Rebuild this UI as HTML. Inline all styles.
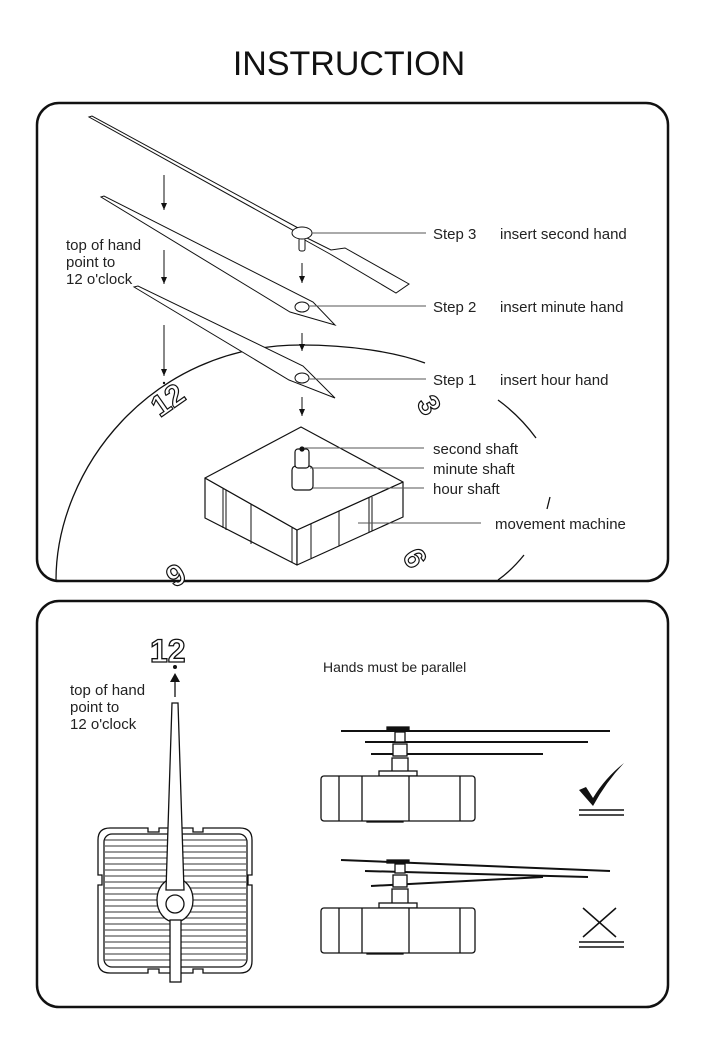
<!DOCTYPE html>
<html><head><meta charset="utf-8"><style>
html,body{margin:0;padding:0;background:#fff;}
svg{display:block;}
text{font-family:"Liberation Sans",Arial,sans-serif;fill:#222;}
</style></head><body>
<svg width="704" height="1058" viewBox="0 0 704 1058" xmlns="http://www.w3.org/2000/svg">
<defs>
<marker id="ah" markerWidth="8" markerHeight="8" refX="7" refY="3.5" orient="auto" markerUnits="userSpaceOnUse">
<path d="M0,0.5 L7,3.5 L0,6.5 Z" fill="#111"/></marker>
</defs>
<text x="349" y="75" font-size="34" text-anchor="middle" style="fill:#111">INSTRUCTION</text>

<rect x="37" y="103" width="631" height="478" rx="22" fill="none" stroke="#111" stroke-width="2.5"/>
<rect x="37" y="601" width="631" height="406" rx="22" fill="none" stroke="#111" stroke-width="2.5"/>

<!-- dial -->
<g fill="none" stroke="#111" stroke-width="1.3">
<path d="M56,580 C56,470 150,345 301,345 C350,345 395,352 425,363"/>
<path d="M498,400 Q520,416 536,438"/>
<path d="M550,497 L547,509"/>
<path d="M524,555 Q512,570 498,580"/>
</g>
<g font-size="30" font-weight="bold" stroke="#111" stroke-width="1.2">
<text x="0" y="0" transform="translate(160,418) rotate(-35)" style="fill:#fff">12</text>
<text x="0" y="0" transform="translate(416,403) rotate(60)" style="fill:#fff">3</text>
<text x="0" y="0" transform="translate(178,562) rotate(150)" style="fill:#fff">6</text>
<text x="0" y="0" transform="translate(428,560) rotate(-120)" style="fill:#fff">9</text>
</g>

<!-- arrows -->
<g stroke="#111" stroke-width="1" marker-end="url(#ah)">
<line x1="164" y1="175" x2="164" y2="210"/>
<line x1="164" y1="250" x2="164" y2="284"/>
<line x1="164" y1="325" x2="164" y2="376"/>
<line x1="302" y1="263" x2="302" y2="283"/>
<line x1="302" y1="333" x2="302" y2="351"/>
<line x1="302" y1="397" x2="302" y2="416"/>
</g>
<circle cx="164" cy="383" r="1.2" fill="#111"/>

<!-- second hand -->
<g fill="#fff" stroke="#111" stroke-width="1">
<polygon points="89,117 92,116 300,229 298,233"/>
<polygon points="303,236 331,250 345,248 409,284 396,293 330,254 303,239"/>
<rect x="299" y="238" width="6" height="13" rx="2"/>
<ellipse cx="302" cy="233" rx="10" ry="6"/>
<polygon points="101,197 104,196 313,302 335,325 290,312"/>
<ellipse cx="302" cy="307" rx="7" ry="5"/>
<polygon points="134,287 138,286 303,366 335,398 289,380"/>
<ellipse cx="302" cy="378" rx="7" ry="5"/>
</g>

<!-- movement box -->
<g fill="#fff" stroke="#111" stroke-width="1.2" stroke-linejoin="round">
<polygon points="205,478 297,530 297,565 205,518"/>
<polygon points="297,530 403,482 403,517 297,565"/>
<polygon points="301,427 403,482 297,530 205,478"/>
<g fill="none" stroke-width="1">
<line x1="223" y1="488" x2="223" y2="528"/><line x1="226" y1="490" x2="226" y2="530"/>
<line x1="251" y1="504" x2="251" y2="544"/>
<line x1="292" y1="527" x2="292" y2="562"/>
<line x1="311" y1="524" x2="311" y2="558"/>
<line x1="339" y1="511" x2="339" y2="546"/>
<line x1="369" y1="498" x2="369" y2="532"/><line x1="372" y1="497" x2="372" y2="531"/>
</g>
<rect x="292" y="466" width="21" height="24" rx="4"/>
<rect x="295" y="449" width="14" height="19" rx="3"/>
<circle cx="302" cy="449" r="2" fill="#111"/>
</g>

<!-- leader lines -->
<g stroke="#555" stroke-width="1">
<line x1="312" y1="233" x2="426" y2="233"/>
<line x1="309" y1="306" x2="426" y2="306"/>
<line x1="309" y1="379" x2="426" y2="379"/>
<line x1="304" y1="448" x2="424" y2="448"/>
<line x1="310" y1="468" x2="424" y2="468"/>
<line x1="313" y1="488" x2="424" y2="488"/>
<line x1="358" y1="523" x2="481" y2="523"/>
</g>
<g font-size="15">
<text x="433" y="239">Step 3</text><text x="500" y="239">insert second hand</text>
<text x="433" y="312">Step 2</text><text x="500" y="312">insert minute hand</text>
<text x="433" y="385">Step 1</text><text x="500" y="385">insert hour hand</text>
<text x="433" y="454">second shaft</text>
<text x="433" y="474">minute shaft</text>
<text x="433" y="494">hour shaft</text>
<text x="495" y="529">movement  machine</text>
<text x="66" y="250">top of hand</text>
<text x="66" y="267">point to</text>
<text x="66" y="284">12 o'clock</text>
</g>

<!-- panel 2 left -->
<text x="150" y="662" font-size="32" font-weight="bold" style="fill:#fff" stroke="#111" stroke-width="1.3">12</text>
<circle cx="175" cy="667" r="2" fill="#111"/>
<line x1="175" y1="697" x2="175" y2="680" stroke="#111" stroke-width="1.3"/>
<polygon points="170,682 175,673 180,682" fill="#111"/>
<g font-size="15">
<text x="70" y="695">top of hand</text>
<text x="70" y="712">point to</text>
<text x="70" y="729">12 o'clock</text>
</g>
<g fill="#fff" stroke="#111" stroke-width="1.3">
<path d="M110,828 H148 V832 H159 V828 H193 V832 H203 V828 H240 Q252,828 252,840 V875 H248 V885 H252 V961 Q252,973 240,973 H203 V969 H193 V973 H159 V969 H148 V973 H110 Q98,973 98,961 V885 H102 V875 H98 V840 Q98,828 110,828 Z"/>
<rect x="104" y="834" width="143" height="133" rx="8"/>
</g>
<g stroke="#333" stroke-width="1">
<line x1="105" y1="840" x2="246" y2="840"/><line x1="105" y1="846" x2="246" y2="846"/>
<line x1="105" y1="852" x2="246" y2="852"/><line x1="105" y1="858" x2="246" y2="858"/>
<line x1="105" y1="864" x2="246" y2="864"/><line x1="105" y1="870" x2="246" y2="870"/>
<line x1="105" y1="876" x2="246" y2="876"/><line x1="105" y1="882" x2="246" y2="882"/>
<line x1="105" y1="888" x2="246" y2="888"/><line x1="105" y1="894" x2="246" y2="894"/>
<line x1="105" y1="900" x2="246" y2="900"/><line x1="105" y1="906" x2="246" y2="906"/>
<line x1="105" y1="912" x2="246" y2="912"/><line x1="105" y1="918" x2="246" y2="918"/>
<line x1="105" y1="924" x2="246" y2="924"/><line x1="105" y1="930" x2="246" y2="930"/>
<line x1="105" y1="936" x2="246" y2="936"/><line x1="105" y1="942" x2="246" y2="942"/>
<line x1="105" y1="948" x2="246" y2="948"/><line x1="105" y1="954" x2="246" y2="954"/>
<line x1="105" y1="960" x2="246" y2="960"/>
</g>
<g fill="#fff" stroke="#111" stroke-width="1.3">
<ellipse cx="175" cy="900" rx="18" ry="22"/>
<rect x="170" y="920" width="11" height="62"/>
<polygon points="172,703 178,703 184,890 166,890"/>
<circle cx="175" cy="904" r="9"/>
</g>

<!-- panel 2 right -->
<text x="323" y="672" font-size="14">Hands must be parallel</text>
<g stroke="#111" fill="#fff" stroke-width="1.3">
<line x1="341" y1="731" x2="610" y2="731" stroke-width="2"/>
<line x1="365" y1="742" x2="588" y2="742" stroke-width="2"/>
<line x1="371" y1="754" x2="543" y2="754" stroke-width="2"/>
<rect x="387" y="727" width="22" height="3" fill="#111"/>
<rect x="395" y="732" width="10" height="10"/>
<rect x="393" y="744" width="14" height="12"/>
<rect x="392" y="758" width="16" height="14"/>
<rect x="379" y="771" width="38" height="5"/>
<rect x="367" y="816" width="36" height="6"/>
<rect x="321" y="776" width="154" height="45" rx="3"/>
<line x1="339" y1="776" x2="339" y2="821"/><line x1="362" y1="776" x2="362" y2="821"/>
<line x1="409" y1="776" x2="409" y2="821"/><line x1="460" y1="776" x2="460" y2="821"/>
<line x1="341" y1="860" x2="610" y2="871" stroke-width="2"/>
<line x1="365" y1="871" x2="588" y2="877" stroke-width="2"/>
<line x1="371" y1="886" x2="543" y2="877" stroke-width="2"/>
<rect x="387" y="860" width="22" height="3" fill="#111"/>
<rect x="395" y="864" width="10" height="9"/>
<rect x="393" y="875" width="14" height="12"/>
<rect x="392" y="889" width="16" height="15"/>
<rect x="379" y="903" width="38" height="5"/>
<rect x="367" y="948" width="36" height="6"/>
<rect x="321" y="908" width="154" height="45" rx="3"/>
<line x1="339" y1="908" x2="339" y2="953"/><line x1="362" y1="908" x2="362" y2="953"/>
<line x1="409" y1="908" x2="409" y2="953"/><line x1="460" y1="908" x2="460" y2="953"/>
</g>
<path d="M579,790 L586,787 L593,798 Q605,778 624,763 Q606,782 593,806 Z" fill="#111"/>
<g stroke="#111" stroke-width="1.5">
<line x1="579" y1="810" x2="624" y2="810"/><line x1="579" y1="815" x2="624" y2="815"/>
<line x1="583" y1="908" x2="616" y2="937"/><line x1="616" y1="908" x2="583" y2="937"/>
<line x1="579" y1="942" x2="624" y2="942"/><line x1="579" y1="947" x2="624" y2="947"/>
</g>
</svg>
</body></html>
